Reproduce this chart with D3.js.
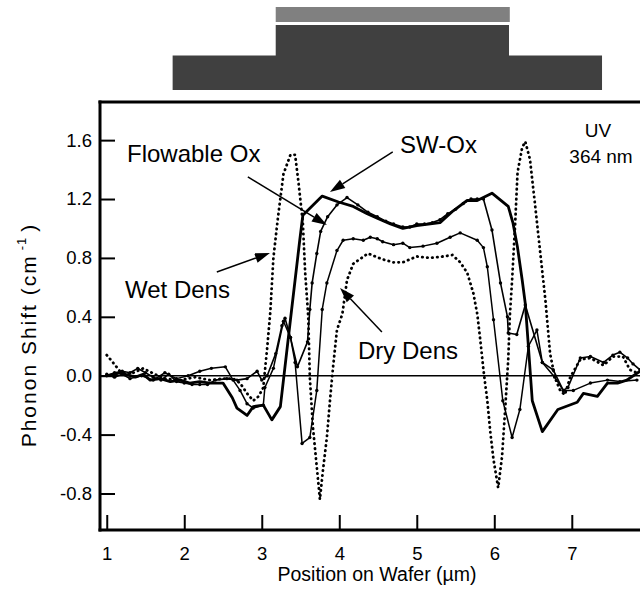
<!DOCTYPE html>
<html><head><meta charset="utf-8">
<script src="https://cdn.jsdelivr.net/npm/d3@7"></script>
<style>
body{margin:0;background:#fff}
svg{display:block}
text{font-family:"Liberation Sans",Arial,Helvetica,sans-serif;fill:#000}
</style>
</head><body>
<svg id="c" width="640" height="592"></svg>
<script>
// ---- tick labels ----
const xTicks = [1, 2, 3, 4, 5, 6, 7];
const yTicks = [-0.8, -0.4, 0.0, 0.4, 0.8, 1.2, 1.6];

// ---- structure layers above the plot (x extents in µm) ----
const capLayer   = [3.18, 6.20];
const mesaLayer  = [3.18, 6.19];
const baseLayer  = [1.85, 7.39];

// ---- series: [position µm, phonon shift cm^-1] ----
const swOx = [[1.00,0.00],[1.11,0.01],[1.17,0.02],[1.30,0.00],[1.37,-0.01],[1.47,0.01],[1.56,-0.03],[1.69,-0.02],[1.82,-0.04],[1.95,-0.03],[2.07,-0.05],[2.20,-0.04],[2.33,-0.05],[2.50,-0.05],[2.62,-0.15],[2.68,-0.22],[2.81,-0.27],[2.89,-0.21],[3.02,-0.20],[3.13,-0.30],[3.24,-0.21],[3.37,0.38],[3.43,0.65],[3.49,0.92],[3.53,1.09],[3.78,1.22],[3.99,1.18],[4.18,1.15],[4.36,1.10],[4.49,1.07],[4.66,1.03],[4.82,1.00],[5.00,1.02],[5.15,1.03],[5.30,1.04],[5.47,1.12],[5.65,1.19],[5.78,1.19],[5.97,1.24],[6.18,1.15],[6.24,1.04],[6.30,0.87],[6.36,0.65],[6.40,0.49],[6.44,0.20],[6.49,-0.17],[6.62,-0.38],[6.82,-0.23],[7.07,-0.18],[7.15,-0.12],[7.33,-0.14],[7.46,-0.05],[7.59,-0.05],[7.71,-0.03],[7.88,0.03]];

const flowableOx = [[1.00,0.00],[1.10,0.02],[1.20,0.03],[1.30,0.02],[1.40,0.05],[1.50,0.02],[1.60,-0.01],[1.70,-0.03],[1.80,0.01],[1.90,-0.04],[2.00,-0.05],[2.10,-0.06],[2.20,-0.06],[2.30,-0.06],[2.40,-0.03],[2.55,-0.02],[2.68,-0.03],[2.81,-0.02],[2.94,0.03],[3.00,-0.03],[3.07,0.00],[3.18,0.15],[3.26,0.34],[3.30,0.39],[3.37,0.26],[3.46,0.06],[3.59,0.23],[3.62,0.45],[3.65,0.63],[3.71,0.83],[3.76,0.98],[3.85,1.08],[3.97,1.16],[4.10,1.21],[4.24,1.16],[4.37,1.11],[4.49,1.08],[4.60,1.05],[4.70,1.03],[4.82,1.01],[4.91,1.01],[5.00,1.03],[5.10,1.03],[5.20,1.04],[5.30,1.06],[5.40,1.10],[5.50,1.13],[5.60,1.17],[5.70,1.20],[5.78,1.20],[5.86,1.20],[5.97,0.99],[6.08,0.63],[6.17,0.40],[6.18,0.29],[6.29,0.28],[6.40,0.48],[6.62,0.09],[6.76,0.04],[6.89,-0.10],[6.95,-0.08],[7.11,0.12],[7.24,0.13],[7.41,0.09],[7.53,0.14],[7.62,0.16],[7.72,0.12],[7.79,0.08],[7.88,0.04]];

const dryDens = [[1.00,0.01],[1.10,-0.01],[1.20,0.01],[1.30,-0.02],[1.45,0.00],[1.60,-0.03],[1.75,0.02],[1.90,-0.02],[2.05,0.00],[2.20,0.03],[2.35,0.05],[2.53,0.06],[2.63,-0.03],[2.72,-0.10],[2.81,-0.19],[2.89,-0.22],[3.02,-0.20],[3.04,-0.08],[3.15,0.05],[3.28,0.37],[3.37,0.26],[3.43,0.09],[3.52,-0.46],[3.62,-0.42],[3.71,-0.10],[3.78,0.45],[3.84,0.63],[3.97,0.85],[4.05,0.92],[4.18,0.93],[4.31,0.92],[4.40,0.94],[4.49,0.93],[4.56,0.91],[4.70,0.89],[4.82,0.90],[4.91,0.87],[5.08,0.88],[5.26,0.90],[5.43,0.94],[5.56,0.97],[5.78,0.92],[5.86,0.87],[5.91,0.74],[5.99,0.38],[6.11,-0.17],[6.23,-0.42],[6.33,-0.23],[6.44,0.20],[6.55,0.31],[6.62,0.09],[6.78,-0.01],[6.89,-0.10],[7.02,-0.10],[7.24,-0.05],[7.46,-0.03],[7.62,-0.04],[7.84,-0.03]];

const wetDens = [[1.00,0.14],[1.08,0.09],[1.17,0.03],[1.30,0.01],[1.47,0.05],[1.62,0.01],[1.75,-0.02],[1.95,-0.03],[2.14,-0.01],[2.33,-0.03],[2.50,-0.02],[2.63,-0.02],[2.72,-0.05],[2.81,-0.12],[2.89,-0.17],[2.96,-0.14],[3.02,-0.08],[3.07,0.19],[3.11,0.43],[3.15,0.80],[3.21,1.08],[3.28,1.37],[3.37,1.50],[3.43,1.50],[3.47,1.33],[3.53,1.04],[3.56,0.70],[3.60,0.40],[3.62,-0.01],[3.66,-0.35],[3.71,-0.62],[3.75,-0.84],[3.79,-0.64],[3.84,-0.42],[3.88,-0.17],[3.92,0.06],[3.97,0.31],[4.04,0.42],[4.10,0.65],[4.18,0.76],[4.37,0.83],[4.56,0.79],[4.70,0.77],[4.82,0.77],[5.00,0.81],[5.17,0.80],[5.34,0.81],[5.46,0.82],[5.56,0.77],[5.65,0.70],[5.73,0.56],[5.78,0.42],[5.82,0.24],[5.86,0.04],[5.91,-0.17],[5.95,-0.39],[5.99,-0.57],[6.05,-0.76],[6.10,-0.55],[6.14,-0.23],[6.18,0.11],[6.20,0.40],[6.23,0.65],[6.27,1.04],[6.30,1.38],[6.36,1.55],[6.40,1.59],[6.46,1.47],[6.52,1.19],[6.59,0.85],[6.66,0.51],[6.72,0.15],[6.78,-0.01],[6.85,-0.10],[6.91,-0.13],[6.98,-0.01],[7.11,0.11],[7.24,0.12],[7.41,0.07],[7.53,0.13],[7.66,0.13],[7.75,0.04],[7.84,0.02]];

// ---- annotations: label and arrow (tail -> tip, in data units) ----
const annotations = [
  {text:"Flowable Ox", tail:[2.82,1.35], tip:[3.84,1.024]},
  {text:"SW-Ox",       tail:[4.69,1.52], tip:[3.88,1.248]},
  {text:"Wet Dens",    tail:[2.42,0.704], tip:[3.106,0.834]},
  {text:"Dry Dens",    tail:[4.55,0.297], tip:[4.01,0.596]}
];

const svg = d3.select("#c");
svg.append("rect").attr("width",640).attr("height",592).attr("fill","#fff");

const x = d3.scaleLinear().domain([0.9, 7.88]).range([99, 640]);
const y = d3.scaleLinear().domain([-1.048, 1.859]).range([530, 102]);

// structure layers
svg.append("rect").attr("x", x(capLayer[0])).attr("width", x(capLayer[1]) - x(capLayer[0]))
   .attr("y", 7).attr("height", 15).attr("fill", "#808080");
svg.append("rect").attr("x", x(mesaLayer[0])).attr("width", x(mesaLayer[1]) - x(mesaLayer[0]))
   .attr("y", 25).attr("height", 32).attr("fill", "#404040");
svg.append("rect").attr("x", x(baseLayer[0])).attr("width", x(baseLayer[1]) - x(baseLayer[0]))
   .attr("y", 55.5).attr("height", 34.5).attr("fill", "#404040");

// zero line
svg.append("line").attr("x1", 99).attr("x2", 640).attr("y1", y(0)).attr("y2", y(0))
   .attr("stroke", "#000").attr("stroke-width", 1.4);

const line = d3.line().x(d => x(d[0])).y(d => y(d[1]));
const g = svg.append("g").attr("fill", "none").attr("stroke", "#000").attr("stroke-linejoin", "round");

g.append("path").datum(wetDens).attr("d", line)
  .attr("stroke-width", 2.8).attr("stroke-linecap", "round").attr("stroke-dasharray", "0.4,4.6");
g.append("path").datum(dryDens).attr("d", line).attr("stroke-width", 1.5);
g.append("path").datum(flowableOx).attr("d", line).attr("stroke-width", 1.6);
g.append("path").datum(swOx).attr("d", line).attr("stroke-width", 2.8);

// point markers on thin series
[dryDens, flowableOx].forEach(s => {
  svg.append("g").selectAll("circle").data(s).join("circle")
    .attr("cx", d => x(d[0])).attr("cy", d => y(d[1])).attr("r", 1.7).attr("fill", "#000");
});

// axes
const fmt = v => d3.format(".1f")(v).replace("\u2212", "-");
const yAxis = d3.axisLeft(y).tickValues(yTicks).tickFormat(fmt).tickSize(-15).tickSizeOuter(0).tickPadding(8);
const xAxis = d3.axisBottom(x).tickValues(xTicks).tickFormat(d3.format("d")).tickSize(-15).tickSizeOuter(0).tickPadding(17);

const ya = svg.append("g").attr("transform", "translate(100,0)").call(yAxis);
const xa = svg.append("g").attr("transform", "translate(0,530)").call(xAxis);
[ya, xa].forEach(a => {
  a.select(".domain").remove();
  a.selectAll(".tick line").attr("stroke", "#000").attr("stroke-width", 2);
  a.selectAll(".tick text").attr("font-size", 18.5).attr("font-family", '"Liberation Sans",Arial,sans-serif').attr("fill", "#000");
});

// frame lines (left, bottom, top)
const frame = svg.append("g").attr("stroke", "#000").attr("stroke-width", 3).attr("stroke-linecap", "square");
frame.append("line").attr("x1", 100).attr("x2", 100).attr("y1", 102).attr("y2", 530);
frame.append("line").attr("x1", 100).attr("x2", 640).attr("y1", 530).attr("y2", 530);
frame.append("line").attr("x1", 100).attr("x2", 640).attr("y1", 102).attr("y2", 102);

// axis titles
svg.append("text").attr("x", 377).attr("y", 581).attr("text-anchor", "middle").attr("font-size", 19.5)
   .text("Position on Wafer (µm)");
const yt = svg.append("text").attr("transform", "translate(36,335) rotate(-90)").attr("text-anchor", "middle")
   .attr("font-size", 21).attr("letter-spacing", 2);
yt.append("tspan").text("Phonon Shift (cm");
yt.append("tspan").attr("font-size", 13).attr("dy", -10).attr("dx", 4).attr("letter-spacing", 1).text("-1");
yt.append("tspan").attr("dy", 10).attr("dx", 5).text(")");

// annotation labels
const labelPos = {"Flowable Ox":[127,162], "SW-Ox":[400,153], "Wet Dens":[125,298], "Dry Dens":[358,359]};
annotations.forEach(a => {
  const p = labelPos[a.text];
  svg.append("text").attr("x", p[0]).attr("y", p[1]).attr("font-size", 24).text(a.text);
  const x1 = x(a.tail[0]), y1 = y(a.tail[1]), x2 = x(a.tip[0]), y2 = y(a.tip[1]);
  const ang = Math.atan2(y2 - y1, x2 - x1), L = 15, W = 5;
  const bx = x2 - L * Math.cos(ang), by = y2 - L * Math.sin(ang);
  svg.append("line").attr("x1", x1).attr("y1", y1).attr("x2", bx).attr("y2", by)
     .attr("stroke", "#000").attr("stroke-width", 1.5);
  const pts = [[x2, y2], [bx + W * Math.sin(ang), by - W * Math.cos(ang)], [bx - W * Math.sin(ang), by + W * Math.cos(ang)]];
  svg.append("polygon").attr("points", pts.map(q => q.join(",")).join(" ")).attr("fill", "#000");
});

// wavelength note
svg.append("text").attr("x", 598).attr("y", 137).attr("text-anchor", "middle").attr("font-size", 19).text("UV");
svg.append("text").attr("x", 601).attr("y", 163).attr("text-anchor", "middle").attr("font-size", 19).text("364 nm");
</script>
</body></html>
